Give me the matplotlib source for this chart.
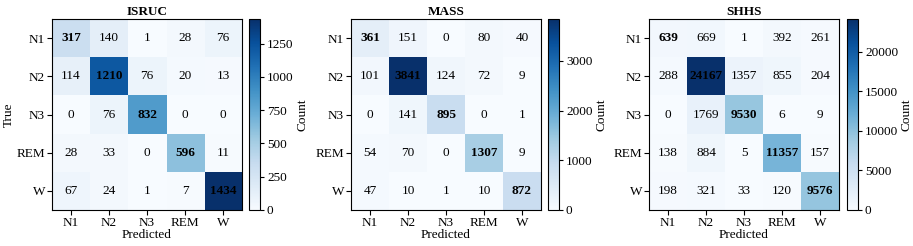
import numpy as np
import matplotlib
matplotlib.use("Agg")
import matplotlib.pyplot as plt

plt.rcParams['font.family'] = ['Liberation Serif', 'DejaVu Serif']
plt.rcParams['font.size'] = 9

labels = ["N1", "N2", "N3", "REM", "W"]
titles = ["ISRUC", "MASS", "SHHS"]

isruc = [[317, 140, 1, 28, 76],
         [114, 1210, 76, 20, 13],
         [0, 76, 832, 0, 0],
         [28, 33, 0, 596, 11],
         [67, 24, 1, 7, 1434]]
mass = [[361, 151, 0, 80, 40],
        [101, 3841, 124, 72, 9],
        [0, 141, 895, 0, 1],
        [54, 70, 0, 1307, 9],
        [47, 10, 1, 10, 872]]
shhs = [[639, 669, 1, 392, 261],
        [288, 24167, 1357, 855, 204],
        [0, 1769, 9530, 6, 9],
        [138, 884, 5, 11357, 157],
        [198, 321, 33, 120, 9576]]
mats = [isruc, mass, shhs]

W, H = 913, 246
fig = plt.figure(figsize=(W/100, H/100), dpi=100)
lefts = [52, 351, 649]
cb_lefts = [249, 548, 847]
top, bottom = 19, 210
for i, (m, t) in enumerate(zip(mats, titles)):
    m = np.array(m)
    ax = fig.add_axes([lefts[i]/W, (H-bottom)/H, 190/W, (bottom-top)/H])
    cax = fig.add_axes([cb_lefts[i]/W, (H-bottom)/H, 11/W, (bottom-top)/H])
    im = ax.imshow(m, cmap='Blues', vmin=0, vmax=m.max(), aspect='auto')
    cb = fig.colorbar(im, cax=cax)
    cb.set_label('Count', fontsize=9.5, labelpad=2)
    cb.ax.tick_params(labelsize=9.5, pad=2, length=3)
    cb.outline.set_linewidth(0.8)
    for r in range(5):
        for c in range(5):
            ax.text(c, r, str(m[r, c]), ha='center', va='center', color='black',
                    fontsize=9.5, fontweight='bold' if r == c else 'normal')
    ax.set_xticks(range(5))
    ax.set_xticklabels(labels)
    ax.set_yticks(range(5))
    ax.set_yticklabels(labels)
    ax.tick_params(pad=1.5, length=3.5, labelsize=9.5)
    ax.set_xlabel('Predicted', fontsize=9.5, labelpad=0)
    if i == 0:
        ax.set_ylabel('True', fontsize=9.5, labelpad=1)
    ax.set_title(t, fontsize=9.5, fontweight='bold', pad=3)

fig.savefig('out.png', dpi=100)
